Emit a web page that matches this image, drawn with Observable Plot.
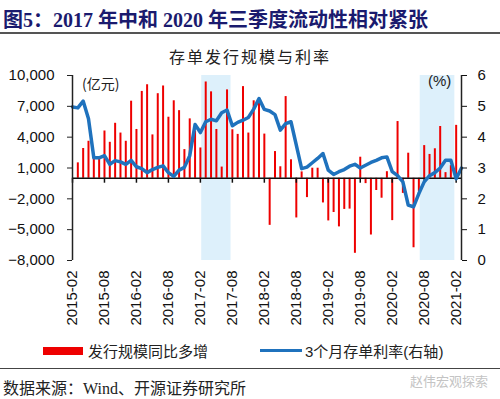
<!DOCTYPE html>
<html><head><meta charset="utf-8">
<script src="https://cdn.jsdelivr.net/npm/d3@7"></script>
<script src="https://cdn.jsdelivr.net/npm/@observablehq/plot@0.6"></script>
<style>
body{margin:0;background:#fff;width:500px;height:399px;position:relative;overflow:hidden;font-family:"Noto Sans CJK SC",sans-serif;}
.abs{position:absolute;white-space:nowrap;}
#title{left:3px;top:4px;font:bold 20px "Liberation Serif","Noto Sans CJK SC";color:#1a1a6e;}
#rule1{left:0;top:32px;width:500px;height:0;border-top:2px solid #555;}
#sub{left:0;width:500px;top:44px;text-align:center;font-size:16px;letter-spacing:2px;color:#222;}
#chart{left:0;top:64px;}
.unit{font-size:14px;color:#222;}
.leg{font-size:15px;color:#222;}
#rule2{left:0;top:368px;width:500px;height:0;border-top:1.5px solid #444;}
#src{left:3px;top:375px;font-size:16px;color:#222;}
#src span{font-family:"Liberation Serif";}
#wm{left:410px;top:371px;font-size:13px;color:#c4c4c4;}
</style></head>
<body>
<div id="title" class="abs">图5：2017 年中和 2020 年三季度流动性相对紧张</div>
<div id="rule1" class="abs"></div>
<div id="sub" class="abs">存单发行规模与利率</div>
<div id="chart" class="abs"></div>
<div class="abs unit" style="left:82px;top:73px;">(亿元)</div>
<div class="abs unit" style="left:428px;top:72px;font-family:'Liberation Sans';font-size:15px;">(%)</div>
<div class="abs" style="left:43px;top:347px;width:40px;height:8px;background:#ee0000;"></div>
<div class="abs leg" style="left:88px;top:340px;">发行规模同比多增</div>
<div class="abs" style="left:260px;top:349px;width:42px;height:3px;background:#1f72bd;"></div>
<div class="abs leg" style="left:305px;top:340px;"><span style="font-family:'Liberation Sans'">3</span>个月存单利率<span style="font-family:'Liberation Sans'">(</span>右轴<span style="font-family:'Liberation Sans'">)</span></div>
<div id="rule2" class="abs"></div>
<div id="src" class="abs">数据来源：<span>Wind</span>、开源证券研究所</div>
<div id="wm" class="abs">赵伟宏观探索</div>
<script>
// Month categories 2015-02 .. 2021-03
const months = d3.utcMonths(new Date(Date.UTC(2015,1,1)), new Date(Date.UTC(2021,3,1))).map(d3.utcFormat("%Y-%m"));
// 发行规模同比多增 (亿元)
const issuance = [null,1500,2900,3600,2000,1900,4600,3500,5350,4400,3600,7500,4750,8450,9100,4220,8230,8980,
  5940,7540,6580,2790,5780,4600,2950,9370,8410,4750,1090,8600,4720,4270,8920,4400,7540,7700,
  4300,-4580,2600,1120,7950,1800,-3860,620,-1880,980,980,-2400,-4150,-3330,-4730,-3030,-3000,-7300,
  2050,-520,-5520,-1190,-1940,640,-4120,5520,-1470,2440,-6760,-1300,3180,2320,2870,5040,550,1230,5150,null];
// 3个月存单利率 (%)
const rate = [4.98,4.95,5.17,4.6,3.33,3.33,3.4,3.12,3.24,3.2,3.12,3.25,3.04,2.98,2.85,2.95,3.02,3.07,
  2.85,2.73,2.93,3.02,3.4,4.41,4.15,4.5,4.58,4.53,4.79,4.88,4.37,4.48,4.55,4.64,4.91,5.25,
  4.9,4.85,4.73,4.23,4.44,4.5,3.74,2.98,3.03,3.17,3.31,3.47,2.93,2.79,2.88,2.95,3.06,3.12,
  3.0,3.09,3.18,3.25,3.33,3.36,2.88,2.75,2.55,1.8,1.74,2.17,2.55,2.75,2.85,3.0,3.25,3.25,2.65,3.0];
const leftTicks = [-8000,-5000,-2000,1000,4000,7000,10000];
const rightTicks = [0,1,2,3,4,5,6];
const xTickLabels = ["2015-02","2015-08","2016-02","2016-08","2017-02","2017-08","2018-02","2018-08","2019-02","2019-08","2020-02","2020-08","2021-02"];
const shadePeriods = [["2017-02","2017-07"],["2020-07","2021-01"]];

const idx = m => months.indexOf(m);
const toLeft = r => -8000 + r * 3000;
const fromLeft = v => String(Math.round((v + 8000) / 3000));
const rows = months.map((m, i) => ({i, m, v: issuance[i], r: rate[i]}));
const bars = rows.filter(d => d.v != null);
const xTicks = xTickLabels.map(idx);

const chart = Plot.plot({
  width: 500, height: 266,
  marginTop: 11, marginBottom: 70, marginLeft: 72, marginRight: 39,
  x: {type: "linear", domain: [0, months.length - 1]},
  y: {domain: [-8000, 10000]},
  style: {fontFamily: "'Liberation Sans', Arial, sans-serif", fontSize: "15px", color: "#111", background: "transparent", overflow: "visible"},
  marks: [
    Plot.rect(shadePeriods, {x1: d => idx(d[0]) + 0.25, x2: d => idx(d[1]) + 0.75, y1: -8000, y2: 10000, fill: "#ddf0fb"}),
    Plot.ruleX(bars, {x: "i", y1: 0, y2: "v", stroke: "#ee0000", strokeWidth: 2}),
    Plot.ruleY([0], {stroke: "#111", strokeWidth: 1.5}),
    Plot.ruleX(xTicks, {x: d => d, y1: 0, y2: -480, stroke: "#111", strokeWidth: 1.5}),
    Plot.line(rows, {x: "i", y: d => toLeft(d.r), stroke: "#1f72bd", strokeWidth: 3.5, strokeLinejoin: "round"}),
    Plot.ruleX([0, months.length - 1], {y1: -8000, y2: 10000, stroke: "#222", strokeWidth: 1.5}),
    Plot.axisY({ticks: leftTicks, tickFormat: d3.format(","), tickSize: 5, tickPadding: 13, label: null, stroke: "#222"}),
    Plot.axisY({anchor: "right", ticks: rightTicks.map(toLeft), tickFormat: fromLeft, tickSize: 5, tickPadding: 11, label: null}),
    Plot.axisX({ticks: xTicks, tickFormat: i => months[i], tickRotate: -90, tickSize: 0, tickPadding: 10, label: null})
  ]
});
document.getElementById("chart").appendChild(chart);
</script>
</body></html>
